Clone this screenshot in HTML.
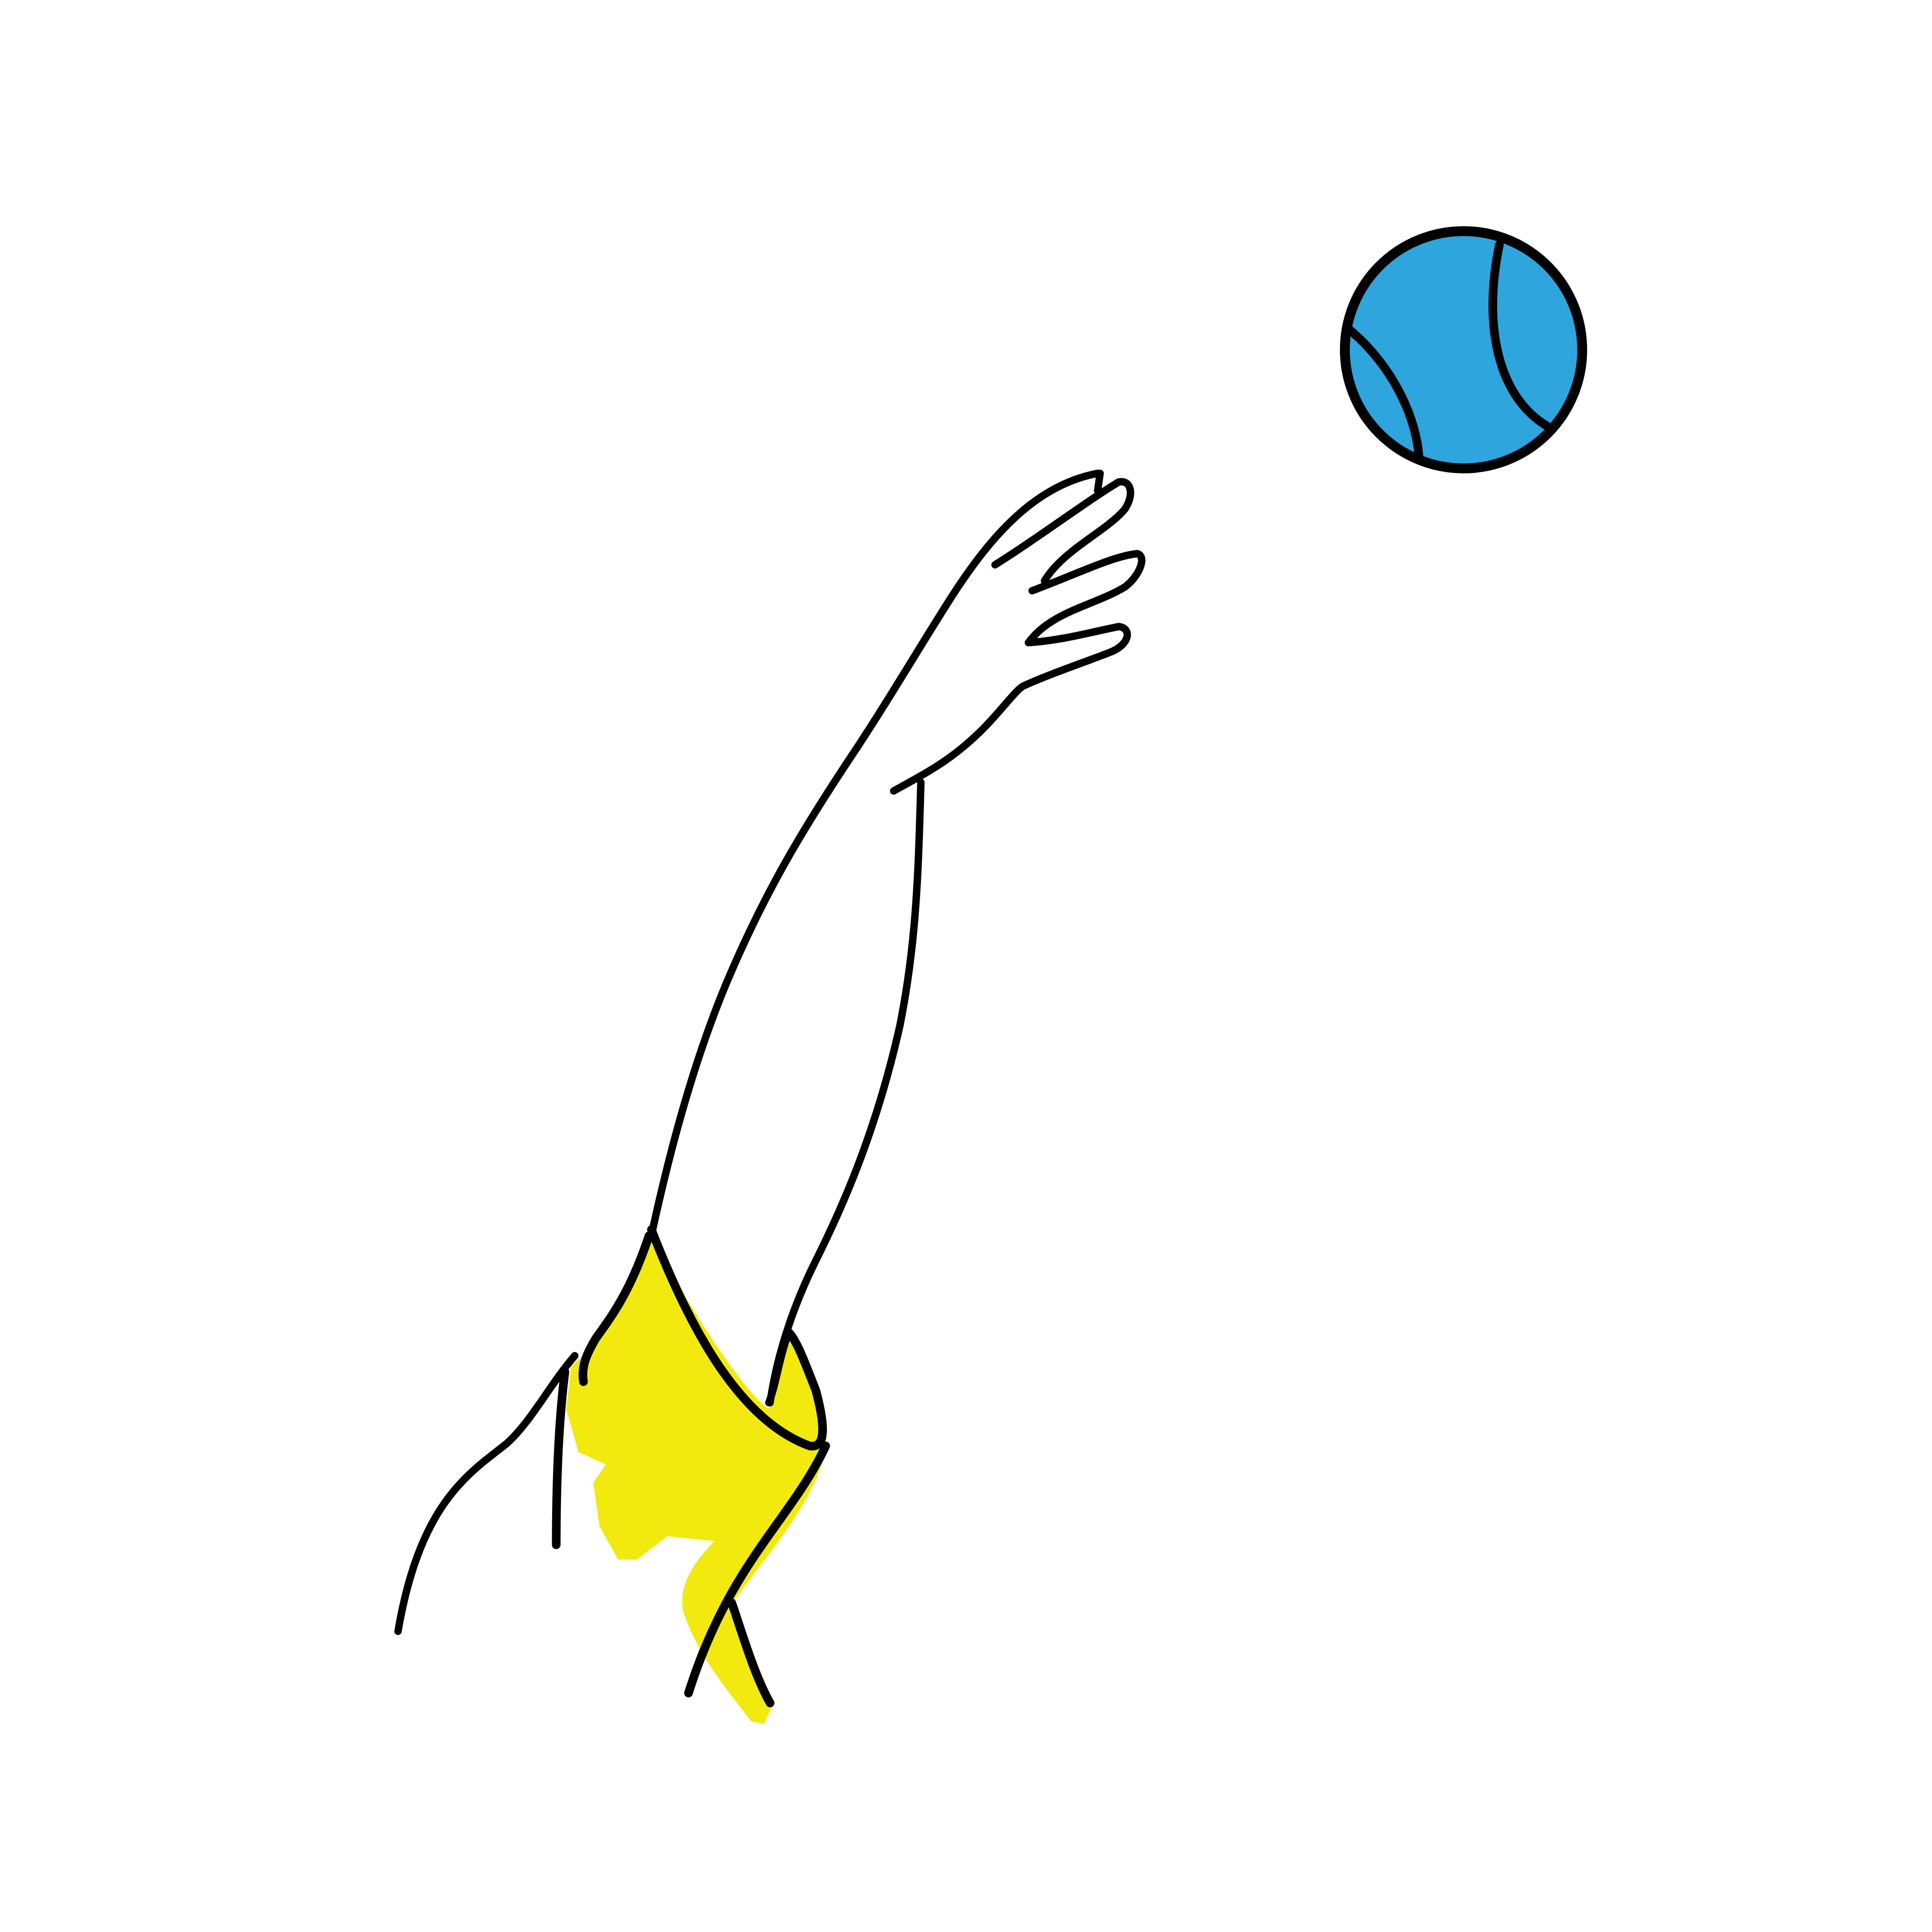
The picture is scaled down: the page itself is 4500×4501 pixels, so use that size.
<!DOCTYPE html>
<html><head><style>html,body{margin:0;padding:0;background:#fff;}svg{display:block;}</style></head>
<body>
<svg width="4500" height="4501" viewBox="0 0 1563 1563.3" xmlns="http://www.w3.org/2000/svg">
<rect width="1563" height="1564" fill="#fff"/>
<path d="M525,1000 C510,1040 490,1070 475,1095 L462,1105 L458,1140 L468,1175 L490,1185 L480,1200 L485,1235 L500,1262 L515,1262 L540,1243 L578,1247 C560,1265 548,1285 553,1305 C565,1340 590,1370 608,1393 L618,1395 L625,1380 C610,1350 598,1320 592,1298 C620,1258 660,1215 668,1172 C672,1140 655,1100 640,1080 L622,1140 C600,1125 560,1060 525,1000 Z" fill="#F2E90F"/>
<g fill="none" stroke="#000" stroke-linecap="round" stroke-linejoin="round">
<path d="M528,995 C540,940 560,860 590,790 C620,720 650,670 690,610 C720,565 755,505 775,475 C805,430 840,392 888,383" stroke-width="6"/>
<path d="M745,633 C743,700 742,760 728,830 C710,910 685,970 660,1020 C640,1060 628,1100 623,1135" stroke-width="6"/>
<path d="M723,640 C750,625 770,615 795,590 C810,575 822,558 828,555 C850,545 880,535 900,527 C915,520 915,508 905,507 C880,512 860,518 832,520 C850,495 885,490 910,475 C922,466 928,450 920,448 C900,450 870,465 835,478" stroke-width="6"/>
<path d="M845,470 C860,445 895,430 910,412 C918,400 915,388 905,390 C880,405 840,435 805,457" stroke-width="6"/>
<path d="M890,383 L888,397" stroke-width="6"/>
<path d="M527,995 C560,1080 600,1150 655,1170 C668,1172 668,1155 660,1125 C652,1105 645,1085 638,1078" stroke-width="7"/>
<path d="M638,1078 C630,1100 628,1120 622,1135" stroke-width="6"/>
<path d="M525,1000 C510,1045 495,1065 482,1083 C475,1095 470,1105 472,1118" stroke-width="7"/>
<path d="M668,1170 C640,1230 590,1265 557,1370" stroke-width="7"/>
<path d="M592,1297 C600,1320 610,1355 623,1378" stroke-width="7"/>
<path d="M465,1097 C445,1120 430,1150 410,1168 C380,1192 340,1215 322,1320" stroke-width="6"/>
<path d="M457,1110 C452,1150 450,1200 450,1250" stroke-width="7"/>
<circle cx="1184" cy="283" r="96" fill="#2EA6DD" stroke-width="8"/>
<path d="M1213,198 C1200,260 1210,320 1252,345" stroke-width="7"/>
<path d="M1092,267 C1120,290 1145,330 1148,370" stroke-width="7"/>
</g>
</svg>
</body></html>
